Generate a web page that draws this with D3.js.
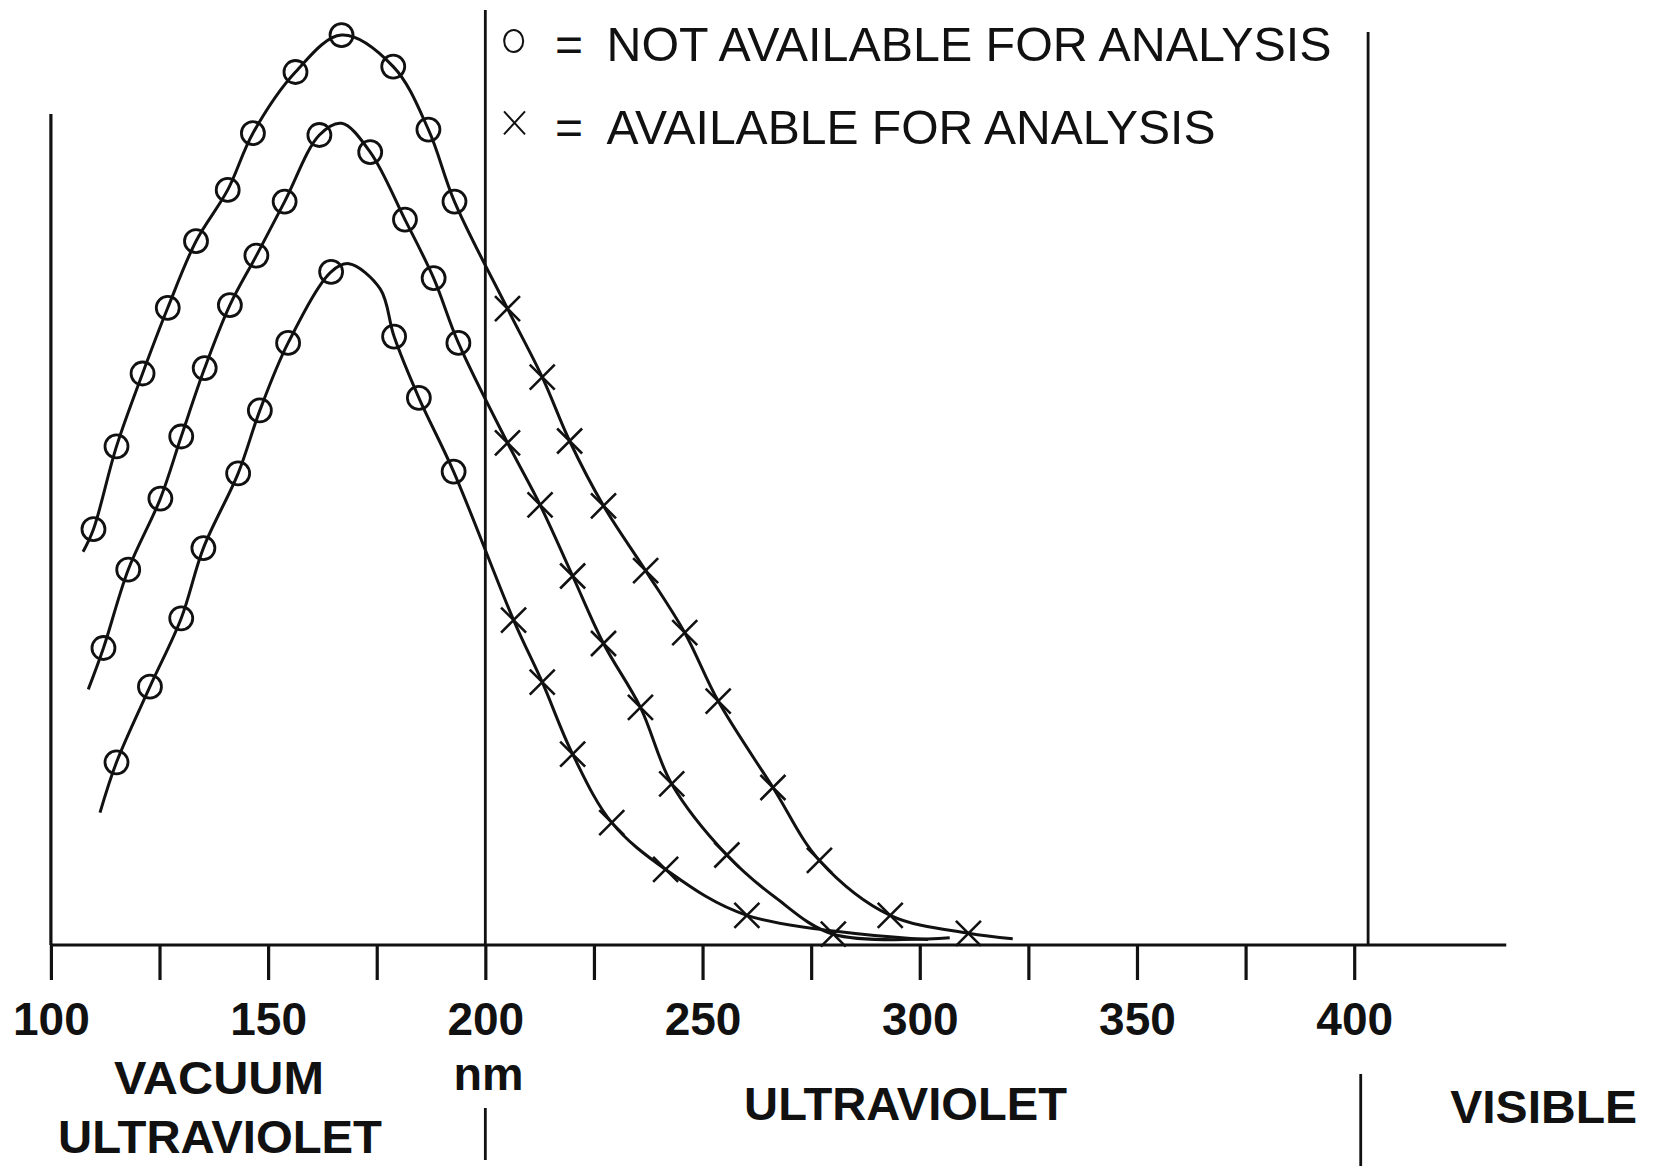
<!DOCTYPE html>
<html><head><meta charset="utf-8">
<script src="https://cdn.jsdelivr.net/npm/d3@7"></script>
<style>html,body{margin:0;padding:0;background:#fff;} svg{display:block;}</style>
</head><body>
<svg id="chart" width="1654" height="1166"></svg>
<script>
// ---- data (wavelength nm, relative value) ----
const xTickValues = [100,125,150,175,200,225,250,275,300,325,350,375,400];
const xTickLabels = ["100","","150","","200","","250","","300","","350","","400"];
const legendLabels = ["NOT AVAILABLE FOR ANALYSIS", "AVAILABLE FOR ANALYSIS"];
const regionLabels = ["VACUUM", "ULTRAVIOLET", "nm", "ULTRAVIOLET", "VISIBLE"];

// top curve
const circlesA = [[109.8,46.2],[115.1,55.4],[121.1,63.5],[126.9,70.8],[133.4,78.2],[140.7,83.9],[146.5,90.2],[156.3,97.0],[166.9,101.1],[178.8,97.6],[186.9,90.6],[192.9,82.6]];
const crossesA = [[205.1,70.7],[213.1,63.1],[219.4,56.0],[227.2,48.8],[236.9,41.6],[245.9,34.7],[253.6,27.1],[266.2,17.5],[276.9,9.4],[293.2,3.3],[311.2,1.3]];
const lineOnlyA = [[107.4,43.7],[321.4,0.7]];
// middle curve
const circlesB = [[112.1,33.0],[117.8,41.7],[125.2,49.6],[130.0,56.5],[135.4,64.1],[141.2,71.1],[147.3,76.6],[153.8,82.6],[161.8,90.0],[173.5,88.1],[181.5,80.6],[188.1,74.1],[193.8,66.9]];
const crossesB = [[205.1,55.8],[212.6,48.9],[220.1,41.0],[227.2,33.5],[235.7,26.4],[242.9,17.9],[255.6,10.0],[280.1,1.2]];
const lineOnlyB = [[108.6,28.4],[166.9,91.3],[266.7,5.3],[306.9,0.8]];
// bottom curve
const circlesC = [[115.1,20.3],[122.8,28.7],[130.0,36.3],[135.1,44.1],[143.1,52.4],[148.1,59.4],[154.6,66.9],[164.5,74.8],[179.0,67.6],[184.7,60.8],[192.7,52.6]];
const crossesC = [[206.5,36.1],[213.1,29.2],[220.1,21.2],[229.1,13.6],[241.5,8.4],[260.2,3.3]];
const lineOnlyC = [[111.3,14.7],[168.6,75.7],[175.8,72.9],[301.9,0.6]];

const series = [
  {circles: circlesA, crosses: crossesA, extra: lineOnlyA},
  {circles: circlesB, crosses: crossesB, extra: lineOnlyB},
  {circles: circlesC, crosses: crossesC, extra: lineOnlyC}
];

// ---- drawing ----
const ink = "#111";
const svg = d3.select("#chart");
const x = d3.scaleLinear().domain([100, 400]).range([50.9, 1354.2]);
const y = d3.scaleLinear().domain([0, 100]).range([945, 45]);

// vertical reference lines
svg.append("line").attr("x1", x(200)).attr("x2", x(200)).attr("y1", 10).attr("y2", y(0))
  .attr("stroke", ink).attr("stroke-width", 2.8);
svg.append("line").attr("x1", x(403.2)).attr("x2", x(403.2)).attr("y1", 32).attr("y2", y(0))
  .attr("stroke", ink).attr("stroke-width", 2.8);
// left axis line
svg.append("line").attr("x1", x(100)).attr("x2", x(100)).attr("y1", 114).attr("y2", y(0))
  .attr("stroke", ink).attr("stroke-width", 3.2);
// baseline
svg.append("line").attr("x1", x(100)).attr("x2", x(435)).attr("y1", y(0)).attr("y2", y(0))
  .attr("stroke", ink).attr("stroke-width", 3.2);

// x axis ticks & labels
const axis = d3.axisBottom(x).tickValues(xTickValues)
  .tickFormat((d, i) => xTickLabels[i]).tickSize(35).tickSizeOuter(0);
const gAxis = svg.append("g").attr("transform", `translate(0,${y(0)})`).call(axis);
gAxis.select(".domain").remove();
gAxis.selectAll(".tick line").attr("stroke", ink).attr("stroke-width", 3.2);
gAxis.selectAll(".tick text").attr("y", 90).attr("dy", 0)
  .attr("fill", ink).attr("font-family", "'Liberation Sans', Arial, sans-serif")
  .attr("font-weight", "bold").attr("font-size", 46);

// curves
const line = d3.line().x(d => x(d[0])).y(d => y(d[1])).curve(d3.curveCatmullRom.alpha(0.5));
series.forEach(s => {
  const pts = s.circles.concat(s.crosses, s.extra).sort((a, b) => a[0] - b[0]);
  svg.append("path").attr("d", line(pts)).attr("fill", "none")
    .attr("stroke", ink).attr("stroke-width", 3).attr("stroke-linejoin", "round");
});
// markers
series.forEach(s => {
  svg.append("g").selectAll("circle").data(s.circles).join("circle")
    .attr("cx", d => x(d[0])).attr("cy", d => y(d[1])).attr("r", 11.5)
    .attr("fill", "none").attr("stroke", ink).attr("stroke-width", 2.8);
  svg.append("g").selectAll("path").data(s.crosses).join("path")
    .attr("d", d => {
      const cx = x(d[0]), cy = y(d[1]), h = 12.5;
      return `M${cx-h},${cy-h}L${cx+h},${cy+h}M${cx+h},${cy-h}L${cx-h},${cy+h}`;
    })
    .attr("fill", "none").attr("stroke", ink).attr("stroke-width", 2.6);
});

// legend
const legendFont = "'Liberation Sans', Arial, sans-serif";
svg.append("ellipse").attr("cx", 513.7).attr("cy", 41).attr("rx", 9.5).attr("ry", 11)
  .attr("fill", "none").attr("stroke", ink).attr("stroke-width", 2);
svg.append("path").attr("d", "M504,111.4L525,134.4M525,111.4L504,134.4")
  .attr("fill", "none").attr("stroke", ink).attr("stroke-width", 2);
[61, 143.5].forEach((by, i) => {
  svg.append("text").attr("x", 555).attr("y", by).text("=")
    .attr("font-family", legendFont).attr("font-size", 48).attr("fill", ink);
  svg.append("text").attr("x", 606.5).attr("y", by).text(legendLabels[i])
    .attr("font-family", legendFont).attr("font-size", 48).attr("fill", ink)
    .attr("textLength", i === 0 ? 725 : 609).attr("lengthAdjust", "spacingAndGlyphs");
});

// region labels
const regionPos = [[219, 1094, 210], [220, 1153, 324], [488.5, 1090, 70], [905.6, 1120, 323], [1543.7, 1123, 187]];
regionLabels.forEach((t, i) => {
  const p = regionPos[i];
  svg.append("text").attr("x", p[0] - p[2] / 2).attr("y", p[1]).text(t)
    .attr("font-family", legendFont).attr("font-weight", "bold").attr("font-size", 46)
    .attr("fill", ink).attr("textLength", p[2]).attr("lengthAdjust", "spacingAndGlyphs");
});
// separators in the region label row
svg.append("line").attr("x1", x(200)).attr("x2", x(200)).attr("y1", 1108).attr("y2", 1160)
  .attr("stroke", ink).attr("stroke-width", 2.8);
svg.append("line").attr("x1", x(401.5)).attr("x2", x(401.5)).attr("y1", 1074).attr("y2", 1166)
  .attr("stroke", ink).attr("stroke-width", 2.8);
</script>
</body></html>
